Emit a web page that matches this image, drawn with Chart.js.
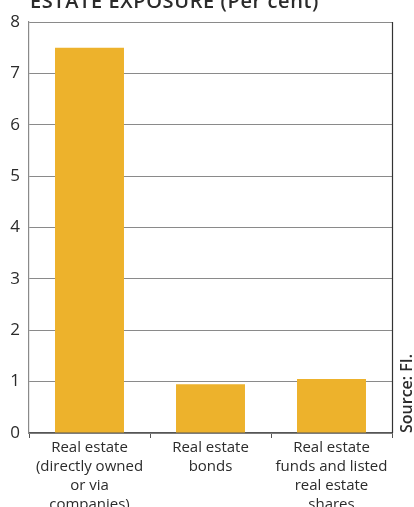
<!DOCTYPE html>
<html>
<head>
<meta charset="utf-8">
<style>
  html, body { margin: 0; padding: 0; background: #ffffff; }
  #wrap { position: relative; width: 414px; height: 507px; }
</style>
<script src="https://cdn.jsdelivr.net/npm/chart.js@4/dist/chart.umd.min.js"></script>
</head>
<body>
<div id="wrap"><canvas id="c" width="414" height="507"></canvas></div>
<script>
// Real estate exposure, per cent
const categories = [
  ["Real estate", "(directly owned", "or via", "companies)"],
  ["Real estate", "bonds"],
  ["Real estate", "funds and listed", "real estate", "shares"]
];
const exposure = [7.5, 0.95, 1.05];
const yTicks = [0, 1, 2, 3, 4, 5, 6, 7, 8];

const titleText = "ESTATE EXPOSURE (Per cent)";
const sourceText = "Source: FI.";

const FONT = "'Open Sans', 'DejaVu Sans', sans-serif";

// Title above the plot, right border and the vertical source note
const decorations = {
  id: 'decorations',
  afterDraw(chart) {
    const { ctx, chartArea } = chart;
    ctx.save();
    // right frame line
    ctx.strokeStyle = '#333333';
    ctx.lineWidth = 1.2;
    ctx.beginPath();
    ctx.moveTo(chartArea.right + 0.5, chartArea.top);
    ctx.lineTo(chartArea.right + 0.5, chartArea.bottom);
    ctx.stroke();

    // title
    ctx.fillStyle = '#2b2b2b';
    ctx.font = "600 20px " + FONT;
    ctx.textBaseline = 'alphabetic';
    ctx.textAlign = 'left';
    if ('letterSpacing' in ctx) ctx.letterSpacing = '0.6px';
    ctx.fillText(titleText, 30, 8);
    if ('letterSpacing' in ctx) ctx.letterSpacing = '0px';

    // source note, rotated
    ctx.translate(412, chartArea.bottom);
    ctx.rotate(-Math.PI / 2);
    ctx.font = "600 16px " + FONT;
    ctx.textAlign = 'left';
    ctx.textBaseline = 'alphabetic';
    ctx.fillStyle = '#2b2b2b';
    ctx.fillText(sourceText, 0, 0);
    ctx.restore();
  }
};

new Chart(document.getElementById('c'), {
  type: 'bar',
  data: {
    labels: categories,
    datasets: [{
      data: exposure,
      backgroundColor: '#EDB22C',
      borderWidth: 0,
      barPercentage: 0.57,
      categoryPercentage: 1.0
    }]
  },
  options: {
    responsive: false,
    animation: false,
    events: [],
    layout: { padding: { top: 22, right: 22, left: 0, bottom: 0 } },
    plugins: { legend: { display: false }, tooltip: { enabled: false } },
    scales: {
      x: {
        offset: true,
        afterFit(scale) { scale.height = 74; },
        grid: {
          offset: true,
          drawOnChartArea: false,
          drawTicks: true,
          tickLength: 5,
          color: '#555555',
          lineWidth: 1
        },
        border: { display: true, color: '#555555', width: 1.2 },
        ticks: {
          color: '#2b2b2b',
          font: { family: FONT, size: 15, weight: 500, lineHeight: 1.27 },
          padding: 0,
          maxRotation: 0,
          autoSkip: false
        }
      },
      y: {
        min: 0,
        max: 8,
        afterFit(scale) { scale.width = 29; },
        afterBuildTicks(scale) { scale.ticks = yTicks.map(v => ({ value: v })); },
        grid: {
          drawTicks: false,
          color: '#8a8a8a',
          lineWidth: 1
        },
        border: { display: true, color: '#8a8a8a', width: 1.2 },
        ticks: {
          color: '#2b2b2b',
          font: { family: FONT, size: 17 },
          padding: 9
        }
      }
    }
  },
  plugins: [decorations]
});
</script>
</body>
</html>
